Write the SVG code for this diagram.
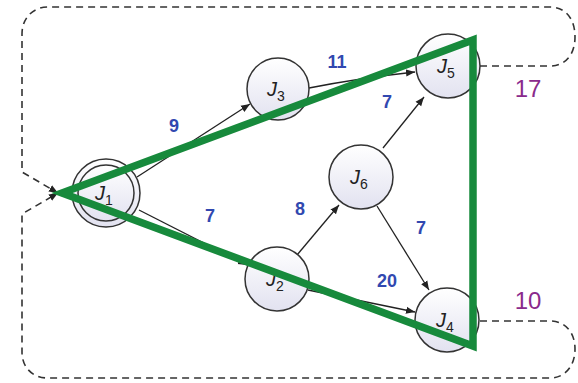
<svg xmlns="http://www.w3.org/2000/svg" width="578" height="383" viewBox="0 0 578 383">
<defs>
<linearGradient id="g" x1="0" y1="0" x2="0" y2="1">
<stop offset="0" stop-color="#ffffff"/>
<stop offset="1" stop-color="#e2e2f0"/>
</linearGradient>
<marker id="ah" viewBox="0 0 10 10" refX="10" refY="5" markerWidth="9" markerHeight="9" markerUnits="userSpaceOnUse" orient="auto">
<path d="M0,1 L10,5 L0,9 Z" fill="#222"/>
</marker>
</defs>
<style>
.n{fill:url(#g);stroke:#333;stroke-width:1.5}
.e{fill:none;stroke:#222;stroke-width:1.3;marker-end:url(#ah)}
.d{fill:none;stroke:#333;stroke-width:1.6;stroke-dasharray:7 5}
.w{font-family:"Liberation Sans",Arial,sans-serif;font-size:18px;font-weight:bold;fill:#3148b0;text-anchor:middle}
.p{font-family:"Liberation Sans",Arial,sans-serif;font-size:24px;fill:#8a2a8c;text-anchor:middle}
.l{font-family:"Liberation Sans",Arial,sans-serif;font-style:italic;font-size:20px;fill:#222;text-anchor:middle}
.s{font-size:14px;font-style:normal}
.gr{fill:none;stroke:#178a3c;stroke-width:7.5;stroke-linejoin:miter}
</style>
<g id="connectors">
<path class="d" d="M480 66 H550 C565 66 575 55 575 37 C575 18 565 7 550 7 H48 C33 7 22 18 22 34 V172 L58 193" marker-end="url(#ah)"/>
<path class="d" d="M480 321 H550 C565 321 575 332 575 349 C575 366 565 378 550 378 H48 C33 378 22 368 22 352 V214 L58 193" marker-end="url(#ah)"/>
<path class="e" d="M137 177 L250 104"/>
<path class="e" d="M139 210 L247 265"/>
<path class="e" d="M309 88 Q360 78 415 72"/>
<path class="e" d="M297 255 L339 205"/>
<path class="e" d="M383 148 L424 97"/>
<path class="e" d="M377 206 L429 290"/>
<path class="e" d="M308 290 L415 312"/>
<text class="w" x="174" y="132">9</text>
<text class="w" x="210" y="222">7</text>
<text class="w" x="337" y="68">11</text>
<text class="w" x="300" y="215">8</text>
<text class="w" x="387" y="108">7</text>
<text class="w" x="421" y="234">7</text>
<text class="w" x="387" y="287">20</text>
<text class="p" x="528" y="97">17</text>
<text class="p" x="528" y="309">10</text>
</g>
<g id="J1"><circle class="n" cx="106" cy="193" r="34"/><circle class="n" cx="106" cy="193" r="28"/><text class="l" x="104" y="200">J<tspan class="s" dy="5">1</tspan></text></g>
<g id="J3"><circle class="n" cx="278" cy="89" r="31"/><text class="l" x="276" y="96">J<tspan class="s" dy="5">3</tspan></text></g>
<g id="J5"><circle class="n" cx="448" cy="66" r="32"/><text class="l" x="446" y="73">J<tspan class="s" dy="5">5</tspan></text></g>
<g id="J6"><circle class="n" cx="361" cy="177" r="32"/><text class="l" x="359" y="184">J<tspan class="s" dy="5">6</tspan></text></g>
<g id="J2"><circle class="n" cx="277" cy="279" r="32"/><text class="l" x="275" y="286">J<tspan class="s" dy="5">2</tspan></text></g>
<g id="J4"><circle class="n" cx="447" cy="320" r="32"/><text class="l" x="445" y="327">J<tspan class="s" dy="5">4</tspan></text></g>
<g id="path"><path class="gr" d="M62 193 L473 40 V346 Z"/></g>
</svg>
